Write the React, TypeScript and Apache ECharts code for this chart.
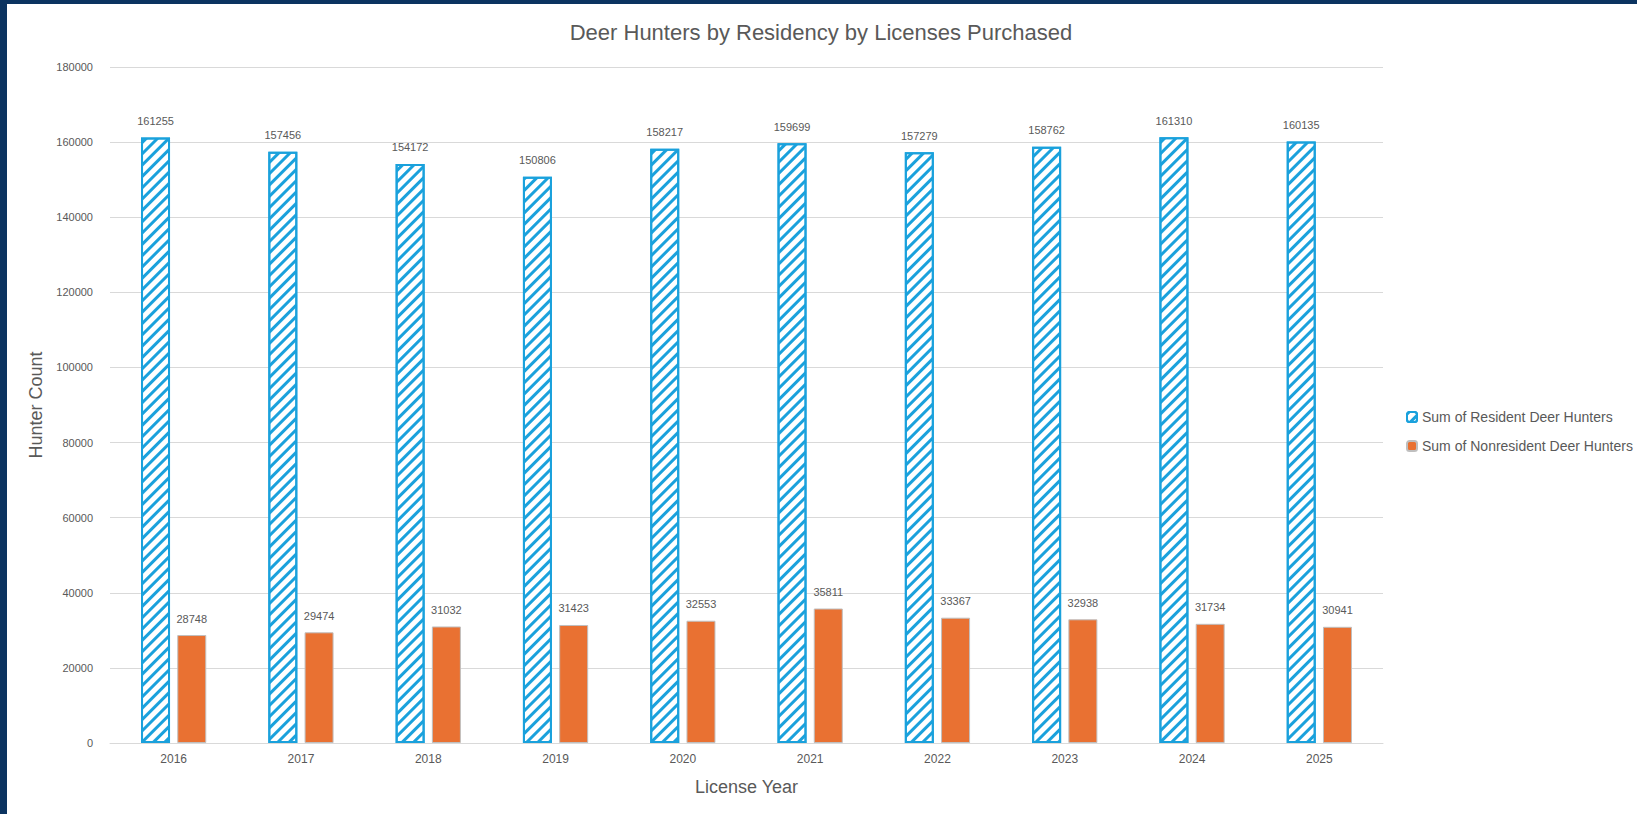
import React, { useEffect, useRef } from "react";
import * as echarts from "echarts";

const years = ["2016", "2017", "2018", "2019", "2020", "2021", "2022", "2023", "2024", "2025"];
const residentHunters = [161255, 157456, 154172, 150806, 158217, 159699, 157279, 158762, 161310, 160135];
const nonresidentHunters = [28748, 29474, 31032, 31423, 32553, 35811, 33367, 32938, 31734, 30941];
const yTicks = { min: 0, max: 180000, interval: 20000 };

const BLUE = "#1aa1dc";
const ORANGE = "#e97132";
const TEXT = "#595959";
const SANS = "'Liberation Sans', Arial, sans-serif";

export default function App() {
  const ref = useRef<HTMLDivElement>(null);
  useEffect(() => {
    document.body.style.margin = "0";
    const chart = echarts.init(ref.current!, null, { renderer: "svg" });
    chart.setOption({
      animation: false,
      backgroundColor: "#ffffff",
      title: {
        text: "Deer Hunters by Residency by Licenses Purchased",
        left: 809,
        textAlign: "center",
        top: 12,
        textStyle: { fontFamily: SANS, fontSize: 22, fontWeight: "normal", color: TEXT },
      },
      legend: {
        orient: "vertical",
        left: 1394,
        top: 401,
        itemWidth: 10,
        itemHeight: 10,
        itemGap: 15,
        textStyle: { fontFamily: SANS, fontSize: 14, color: TEXT },
        data: ["Sum of Resident Deer Hunters", "Sum of Nonresident Deer Hunters"],
      },
      grid: { left: 103, right: 254, top: 63, bottom: 71, containLabel: false },
      xAxis: {
        type: "category",
        data: years,
        name: "License Year",
        nameLocation: "middle",
        nameGap: 35,
        nameTextStyle: { fontFamily: SANS, fontSize: 18, color: TEXT },
        axisTick: { show: false },
        axisLine: { lineStyle: { color: "#d9d9d9" } },
        axisLabel: { fontFamily: SANS, fontSize: 12, color: TEXT, margin: 10 },
      },
      yAxis: {
        type: "value",
        min: yTicks.min,
        max: yTicks.max,
        interval: yTicks.interval,
        name: "Hunter Count",
        nameLocation: "middle",
        nameGap: 56,
        nameTextStyle: { fontFamily: SANS, fontSize: 18, color: TEXT },
        axisLine: { show: false },
        axisTick: { show: false },
        axisLabel: {
          fontFamily: SANS,
          fontSize: 11,
          color: TEXT,
          margin: 17,
          formatter: (v: number) => String(v),
        },
        splitLine: { lineStyle: { color: "#d9d9d9" } },
      },
      series: [
        {
          name: "Sum of Resident Deer Hunters",
          type: "bar",
          data: residentHunters,
          barWidth: 29,
          barGap: "25%",
          itemStyle: {
            color: "#ffffff",
            borderColor: BLUE,
            borderWidth: 2,
            decal: {
              symbol: "rect",
              color: BLUE,
              backgroundColor: "#ffffff",
              dashArrayX: [1, 0],
              dashArrayY: [3, 5],
              rotation: -Math.PI / 4,
            },
          },
          label: {
            show: true,
            position: "top",
            distance: 11,
            fontFamily: SANS,
            fontSize: 11,
            color: TEXT,
          },
        },
        {
          name: "Sum of Nonresident Deer Hunters",
          type: "bar",
          data: nonresidentHunters,
          barWidth: 29,
          itemStyle: { color: ORANGE, borderColor: "#bfbfbf", borderWidth: 1 },
          label: {
            show: true,
            position: "top",
            distance: 11,
            fontFamily: SANS,
            fontSize: 11,
            color: TEXT,
          },
        },
      ],
    });
    return () => chart.dispose();
  }, []);
  return (
    <div
      style={{
        position: "fixed",
        left: 0,
        top: 0,
        width: 1637,
        height: 814,
        boxSizing: "border-box",
        borderLeft: "7px solid #0b3360",
        borderTop: "4px solid #0b3360",
        background: "#fff",
      }}
    >
      <div ref={ref} style={{ width: 1630, height: 810 }} />
    </div>
  );
}
